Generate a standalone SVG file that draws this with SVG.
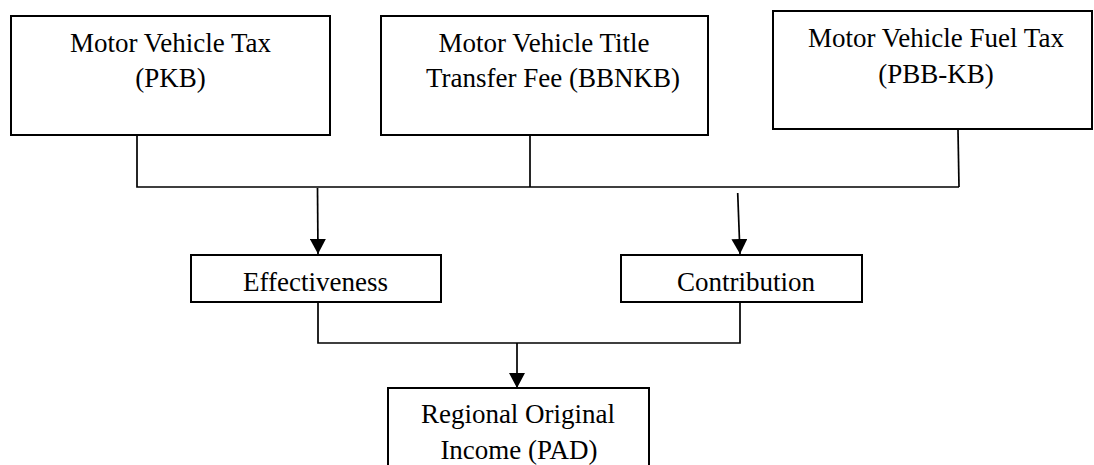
<svg xmlns="http://www.w3.org/2000/svg" width="1094" height="465" viewBox="0 0 1094 465">
<style>
.box{fill:#fff;stroke:#000;stroke-width:2}
.t{font-family:'Liberation Serif','DejaVu Serif',serif;font-size:27px;fill:#000;text-anchor:middle}
.c{fill:none;stroke:#000;stroke-width:1.7}
</style>
<defs>
<marker id="ah" markerUnits="userSpaceOnUse" markerWidth="16" markerHeight="16" refX="15" refY="8" orient="auto" viewBox="0 0 16 16">
<path d="M0,0 L15,8 L0,16 z" fill="#000"/>
</marker>
</defs>
<rect width="1094" height="465" fill="#fff"/>
<g id="connectors">
<path class="c" d="M137,135 V187 H959"/>
<path class="c" d="M530,135 V187"/>
<path class="c" d="M958,130 L959,187"/>
<line class="c" x1="317.5" y1="188" x2="318" y2="254" marker-end="url(#ah)"/>
<line class="c" x1="737.7" y1="193" x2="740" y2="254" marker-end="url(#ah)"/>
<path class="c" d="M318,302 V343 H740 V302"/>
<line class="c" x1="517" y1="343" x2="517" y2="388" marker-end="url(#ah)"/>
</g>
<g id="pkb">
<rect class="box" x="11" y="16" width="319" height="119"/>
<text class="t" x="170.5" y="52">Motor Vehicle Tax</text>
<text class="t" x="170.5" y="87">(PKB)</text>
</g>
<g id="bbnkb">
<rect class="box" x="381" y="16" width="327" height="119"/>
<text class="t" x="544" y="52">Motor Vehicle Title</text>
<text class="t" x="553" y="87">Transfer Fee (BBNKB)</text>
</g>
<g id="pbbkb">
<rect class="box" x="773" y="11" width="319" height="118"/>
<text class="t" x="936" y="47">Motor Vehicle Fuel Tax</text>
<text class="t" x="936" y="83">(PBB-KB)</text>
</g>
<g id="effectiveness">
<rect class="box" x="191" y="255" width="250" height="47"/>
<text class="t" x="315.5" y="291">Effectiveness</text>
</g>
<g id="contribution">
<rect class="box" x="621" y="255" width="241" height="47"/>
<text class="t" x="746" y="291">Contribution</text>
</g>
<g id="pad">
<rect class="box" x="388" y="388" width="261" height="90"/>
<text class="t" x="518" y="423">Regional Original</text>
<text class="t" x="519" y="459">Income (PAD)</text>
</g>
</svg>
